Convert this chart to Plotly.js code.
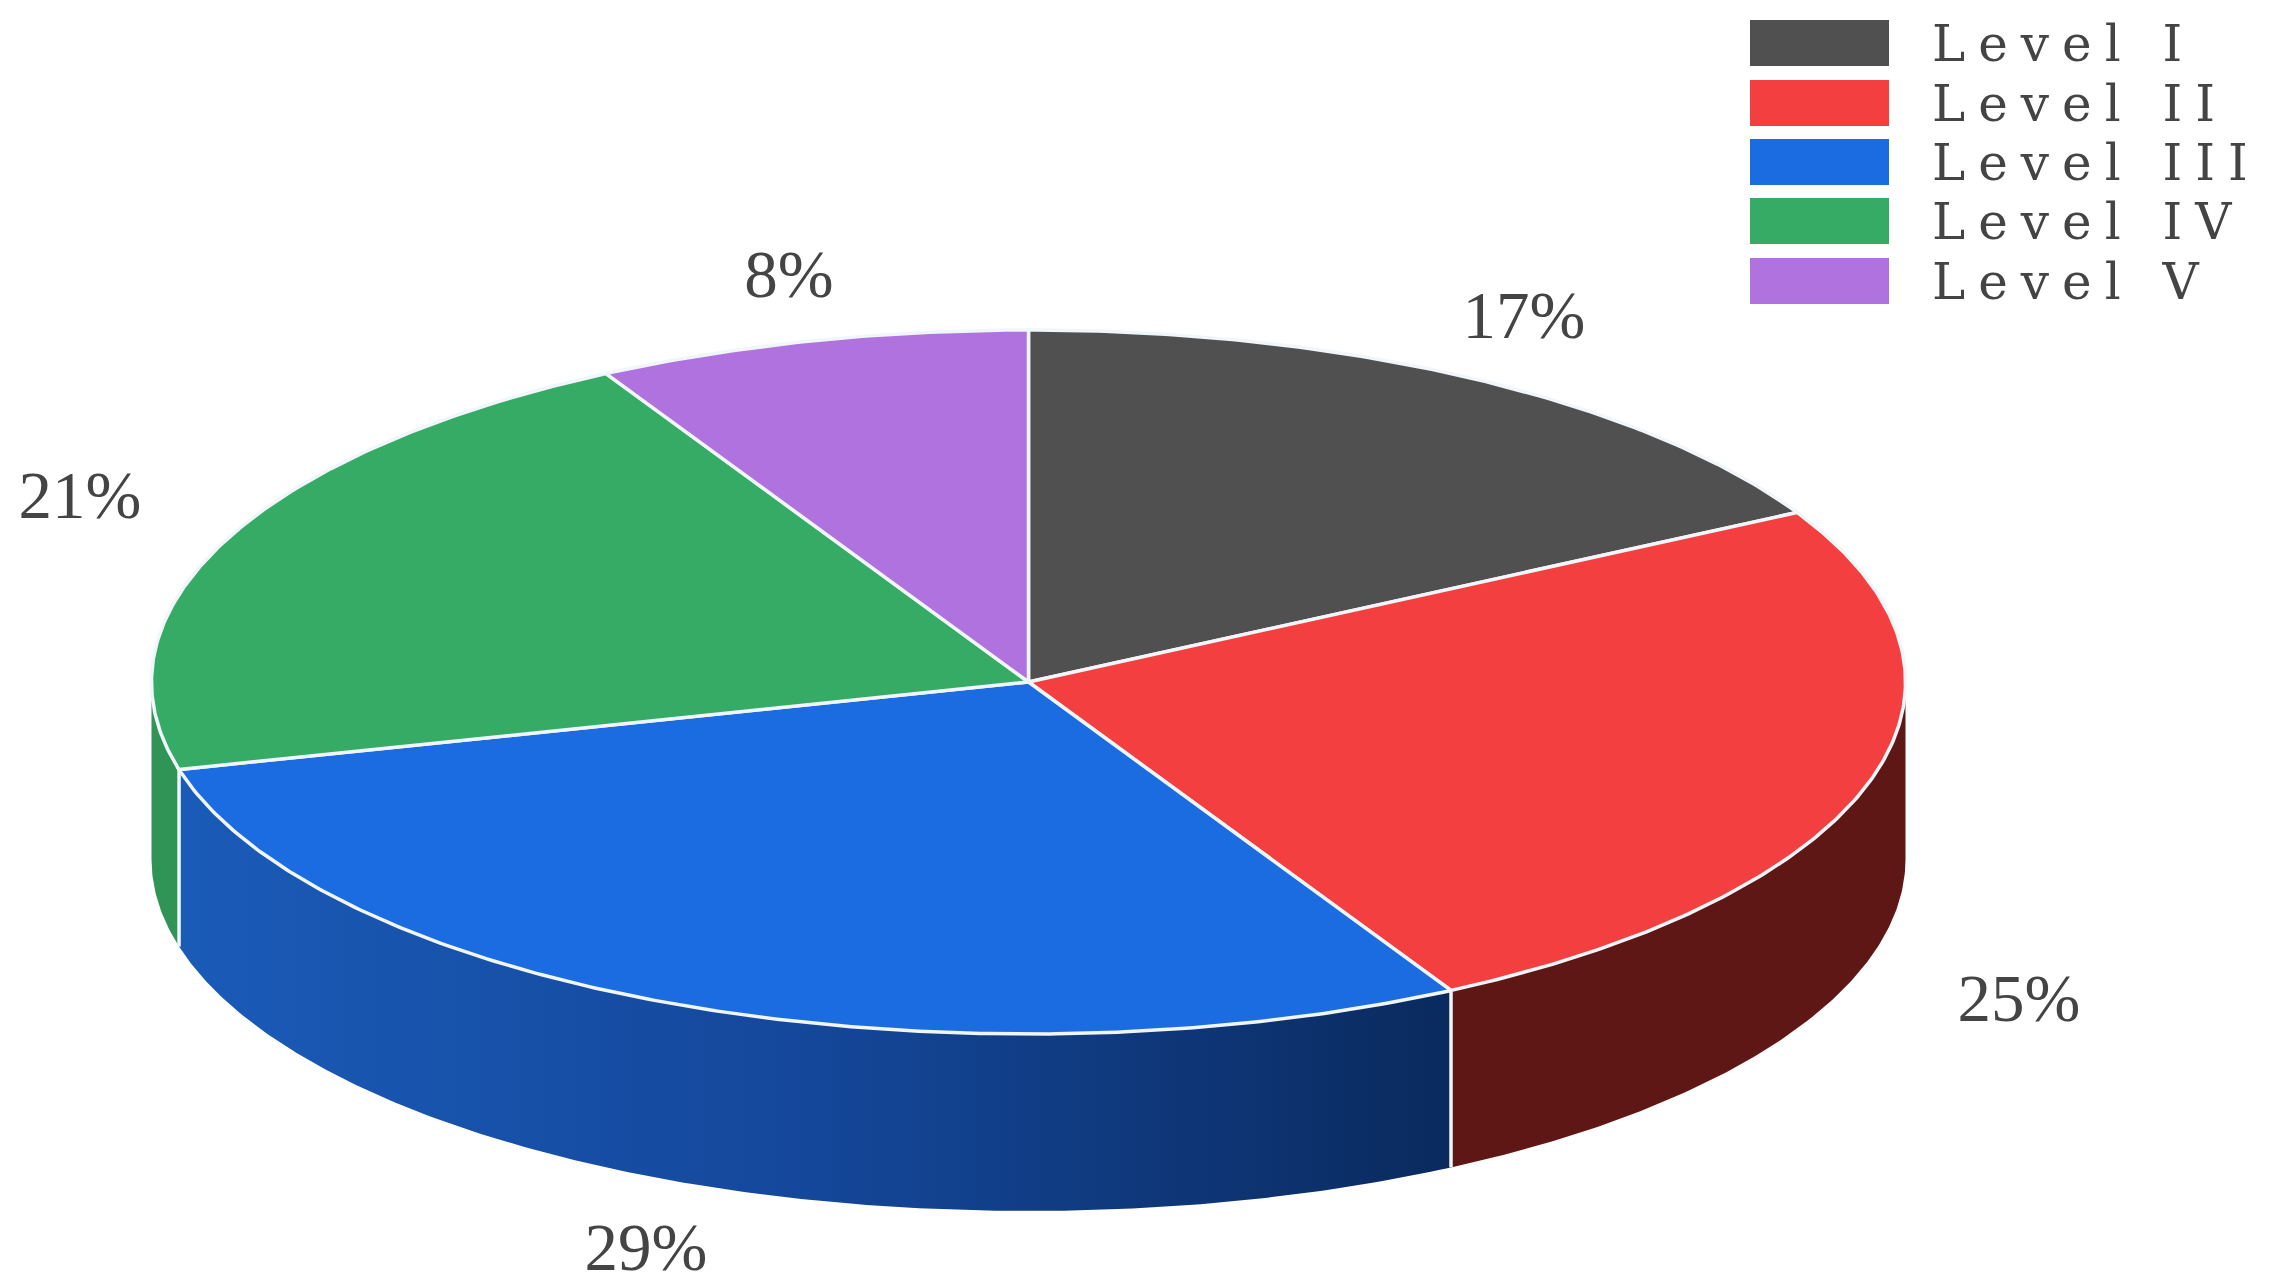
<!DOCTYPE html>
<html>
<head>
<meta charset="utf-8">
<script src="https://cdn.plot.ly/plotly-3.0.1.min.js"></script>
<style>
html,body{margin:0;padding:0;background:#fff}
#chart{width:2270px;height:1288px}
#chart .scatterlayer .trace:last-child text{letter-spacing:13px}
</style>
</head>
<body>
<div id="chart"></div>
<script>
// Data
var categories = ['Level I', 'Level II', 'Level III', 'Level IV', 'Level V'];
var shares = [17, 25, 29, 21, 8];

// Styles
var topColors = ['#505050', '#F33F3F', '#1B6CE0', '#36AB66', '#AF72DE'];
var sideColors = ['#303030', '#5F1715', '#1A5AB5', '#2F9455', '#6A4585'];
var blueRamp = [[0, '#1A5BB8'], [0.5, '#14479A'], [1, '#0A2A5E']];
var edge = '#F0F6FA';
var textColor = '#444444';

// Projection of the disc onto the page axes
var cx = 1028.5, cy = 682, rx = 877, ry = 352, depth = 177;
var labelAt = [[1524, 321], [2019, 1004], [646, 1253], [80, 501], [789, 280]];
var legendX = [1750, 1889], legendTextX = 1932, legendTop = [20, 80, 139, 198, 258], legendH = 46;

function px(deg) { return cx + rx * Math.sin(deg * Math.PI / 180); }
function py(deg, drop) { return cy - ry * Math.cos(deg * Math.PI / 180) + (drop || 0); }
function arc(a, b, drop) {
  var xs = [], ys = [], n = Math.max(2, Math.ceil(Math.abs(b - a) * 2));
  for (var i = 0; i <= n; i++) { var t = a + (b - a) * i / n; xs.push(px(t)); ys.push(py(t, drop)); }
  return [xs, ys];
}

var traces = [];
var bounds = [0];
shares.forEach(function (v, i) { bounds.push(bounds[i] + v * 3.6); });

// Side walls: only the front half of the rim (90..270 degrees) is visible
shares.forEach(function (v, i) {
  var a = Math.max(bounds[i], 90), b = Math.min(bounds[i + 1], 270);
  if (b <= a) return;
  var up = arc(a, b, 0), low = arc(b, a, depth);
  var t = {
    x: up[0].concat(low[0]).concat([up[0][0]]),
    y: up[1].concat(low[1]).concat([up[1][0]]),
    mode: 'lines', fill: 'toself', line: { width: 0, color: sideColors[i] },
    fillcolor: sideColors[i], hoverinfo: 'skip', showlegend: false, name: categories[i] + ' side'
  };
  if (categories[i] === 'Level III') {
    delete t.fillcolor;
    t.fillgradient = { type: 'horizontal', colorscale: blueRamp };
  }
  traces.push(t);
});

// Vertical seams at slice boundaries on the visible rim
bounds.forEach(function (d) {
  if (d > 90 && d < 270) {
    traces.push({ x: [px(d), px(d)], y: [py(d, 0), py(d, depth)], mode: 'lines',
      line: { color: edge, width: 3.5 }, hoverinfo: 'skip', showlegend: false });
  }
});

// Top face
shares.forEach(function (v, i) {
  var e = arc(bounds[i], bounds[i + 1], 0);
  traces.push({
    x: [cx].concat(e[0]).concat([cx]), y: [cy].concat(e[1]).concat([cy]),
    mode: 'lines', fill: 'toself', fillcolor: topColors[i],
    line: { color: edge, width: 3.5 }, name: categories[i],
    text: categories[i] + ': ' + v + '%', hoverinfo: 'text', showlegend: false
  });
});

// Percentage labels
traces.push({
  x: labelAt.map(function (p) { return p[0]; }), y: labelAt.map(function (p) { return p[1]; }),
  text: shares.map(function (v) { return v + '%'; }),
  mode: 'text', textposition: 'middle center',
  textfont: { family: 'Liberation Serif', size: 67, color: textColor },
  hoverinfo: 'skip', showlegend: false
});

// Legend text (last trace: spaced out by the stylesheet above)
traces.push({
  x: categories.map(function () { return legendTextX; }),
  y: legendTop.map(function (t) { return t + legendH / 2 + 5; }),
  text: categories, mode: 'text', textposition: 'middle right',
  textfont: { family: 'DejaVu Serif', size: 50, color: textColor },
  hoverinfo: 'skip', showlegend: false
});

var shapes = categories.map(function (c, i) {
  return { type: 'rect', xref: 'x', yref: 'y', x0: legendX[0], x1: legendX[1],
    y0: legendTop[i], y1: legendTop[i] + legendH, fillcolor: topColors[i], line: { width: 0 } };
});

Plotly.newPlot('chart', traces, {
  width: 2270, height: 1288,
  margin: { l: 0, r: 0, t: 0, b: 0, pad: 0 },
  paper_bgcolor: '#fff', plot_bgcolor: '#fff',
  xaxis: { range: [0, 2270], visible: false, fixedrange: true },
  yaxis: { range: [1288, 0], visible: false, fixedrange: true },
  shapes: shapes, showlegend: false
}, { displayModeBar: false });
</script>
</body>
</html>
